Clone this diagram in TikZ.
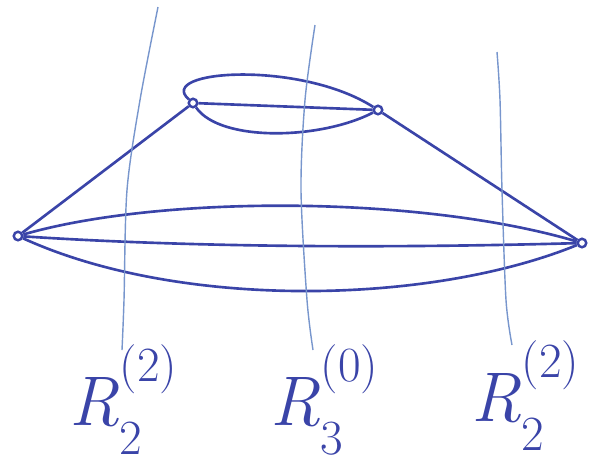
\documentclass[tikz,border=0pt]{standalone}
\usepackage{fontspec}
\usepackage{xcolor}
\definecolor{inkblue}{RGB}{58, 68, 168}
\definecolor{cutblue}{RGB}{120, 150, 205}
\usepackage{tikz}
\usetikzlibrary{positioning, calc}
\newcommand{\cutname}[2]{\textit{R}\rlap{\raisebox{0.62em}{\fontsize{28}{28}\selectfont(#1)}}\raisebox{-0.42em}{\fontsize{28}{28}\selectfont #2}}

\begin{document}
\begin{tikzpicture}[x=0.02cm, y=-0.02cm,
    vtx/.style={circle, draw=inkblue, line width=1.4pt, inner sep=0pt, minimum size=0.17cm},
    edge/.style={draw=inkblue, line width=1.5pt},
    cut/.style={draw=cutblue, line width=0.8pt},
    cutlabel/.style={text=inkblue, inner sep=0pt, font=\fontsize{40}{40}\selectfont}]
        \useasboundingbox (0,0) rectangle (605,468);

        % vertices of the graph
        \node[vtx] (a) at (18,236) {};
        \node[vtx] (b) at (582,243) {};
        \node[vtx] (c) at (193,103) {};
        \node[vtx] (d) at (378,110) {};

        % outer edges
        \draw[edge] (a) -- (c);
        \draw[edge] (d) -- (b);

        % three edges between c and d
        \draw[edge] (c) .. controls (155,70) and (300,60) .. (d);
        \draw[edge] (c) -- (d);
        \draw[edge] (c) .. controls (220,142) and (320,140) .. (d);

        % three edges between a and b
        \draw[edge] (a) .. controls (160,195) and (420,195) .. (b);
        \draw[edge] (a) .. controls (200,248) and (400,248) .. (b);
        \draw[edge] (a) .. controls (180,310) and (430,305) .. (b);

        % cut labels
        \node[cutlabel] (cut1) at (106,400) {\cutname{2}{2}};
        \node[cutlabel] (cut2) at (307,400) {\cutname{0}{3}};
        \node[cutlabel] (cut3) at (508,396) {\cutname{2}{2}};

        % cuts
        \draw[cut] plot[smooth] coordinates {(158,7) (140,100) (127,190) (124,300) (122,350)};
        \draw[cut] plot[smooth] coordinates {(315,25) (305,100) (301,190) (307,300) (313,350)};
        \draw[cut] plot[smooth] coordinates {(497,52) (500,100) (502,190) (506,300) (512,345)};
    \end{tikzpicture}
\end{document}
